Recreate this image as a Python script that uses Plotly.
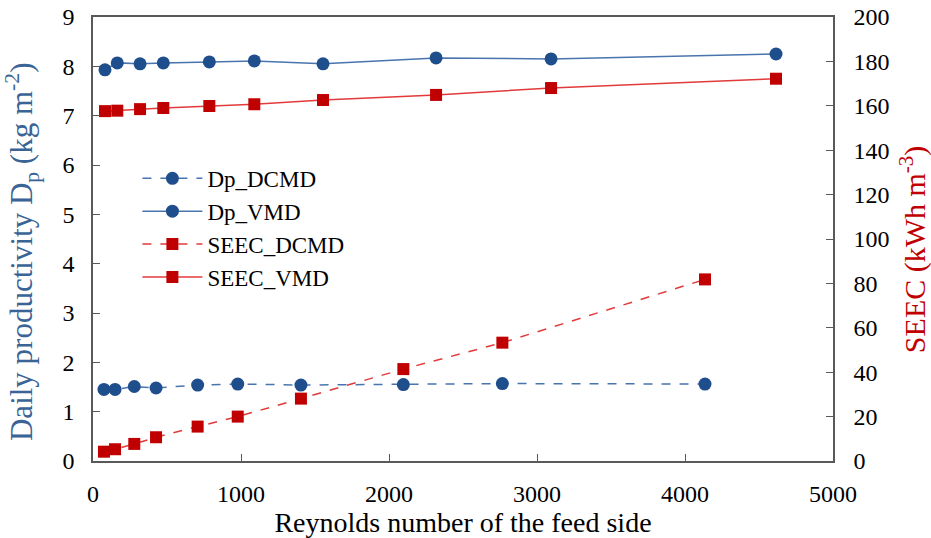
import plotly.graph_objects as go

# Feed-side Reynolds numbers
re_dcmd = [74, 149, 279, 426, 707, 978, 1405, 2097, 2766, 4135]
re_vmd = [81, 164, 318, 475, 786, 1090, 1554, 2318, 3095, 4615]

# Daily productivity (kg m-2)
dp_dcmd = [1.45, 1.45, 1.51, 1.48, 1.54, 1.56, 1.54, 1.55, 1.57, 1.56]
dp_vmd = [7.93, 8.07, 8.05, 8.07, 8.09, 8.11, 8.05, 8.17, 8.15, 8.25]

# Specific electrical energy consumption (kWh m-3)
seec_dcmd = [4.2, 5.3, 7.7, 10.7, 15.5, 20.0, 28.1, 41.4, 53.3, 81.8]
seec_vmd = [157.6, 157.8, 158.5, 159.0, 159.9, 160.7, 162.6, 164.9, 168.0, 172.2]

x_ticks = [0, 1000, 2000, 3000, 4000, 5000]

BLUE_M = "#1F4E8C"
BLUE_L = "#4A74AE"
BLUE_T = "#3A6496"
RED_M = "#C00000"
RED_L = "#E23A3A"
FONT = "Liberation Serif, Times New Roman, serif"
AXIS = "#595959"

fig = go.Figure()
fig.add_trace(go.Scatter(
    x=re_dcmd, y=dp_dcmd, name="Dp_DCMD", mode="lines+markers",
    line=dict(color=BLUE_L, width=1.5, dash="dash"),
    marker=dict(symbol="circle", size=13, color=BLUE_M),
))
fig.add_trace(go.Scatter(
    x=re_vmd, y=dp_vmd, name="Dp_VMD", mode="lines+markers",
    line=dict(color=BLUE_L, width=1.5),
    marker=dict(symbol="circle", size=13, color=BLUE_M),
))
fig.add_trace(go.Scatter(
    x=re_dcmd, y=seec_dcmd, name="SEEC_DCMD", mode="lines+markers", yaxis="y2",
    line=dict(color=RED_L, width=1.5, dash="dash"),
    marker=dict(symbol="square", size=12, color=RED_M),
))
fig.add_trace(go.Scatter(
    x=re_vmd, y=seec_vmd, name="SEEC_VMD", mode="lines+markers", yaxis="y2",
    line=dict(color=RED_L, width=1.5),
    marker=dict(symbol="square", size=12, color=RED_M),
))

fig.update_layout(
    width=931, height=538,
    margin=dict(l=93, r=98, t=17, b=77, autoexpand=False),
    paper_bgcolor="white", plot_bgcolor="white",
    font=dict(family=FONT, size=24, color="black"),
    xaxis=dict(
        range=[0, 5000], tickvals=x_ticks, ticks="inside", ticklen=7,
        ticklabelstandoff=10,
        showline=True, linecolor=AXIS, linewidth=1.5, mirror=True,
        showgrid=False, zeroline=False, tickcolor=AXIS,
        title=dict(text="Reynolds number of the feed side", standoff=2,
                   font=dict(size=28)),
    ),
    yaxis=dict(
        range=[0, 9], dtick=1, ticks="inside", ticklen=7, tickcolor=AXIS,
        ticklabelstandoff=12,
        showline=True, linecolor=AXIS, linewidth=1.5,
        showgrid=False, zeroline=False,
    ),
    yaxis2=dict(
        range=[0, 200], dtick=20, ticks="inside", ticklen=7, tickcolor=AXIS,
        ticklabelstandoff=14,
        overlaying="y", side="right",
        showline=True, linecolor=AXIS, linewidth=1.5,
        showgrid=False, zeroline=False,
    ),
    legend=dict(
        x=0.06, y=0.685, xanchor="left", yanchor="top",
        bgcolor="rgba(0,0,0,0)", font=dict(size=23),
        tracegroupgap=0, itemwidth=60,
    ),
    showlegend=True,
)

# Vertical axis titles
fig.add_annotation(
    text="Daily productivity D<sub>p</sub> (kg m<sup>-2</sup>)",
    xref="paper", yref="paper", x=-0.095, y=0.47,
    xanchor="center", yanchor="middle", textangle=-90, showarrow=False,
    font=dict(family=FONT, size=31, color=BLUE_T),
)
fig.add_annotation(
    text="SEEC (kWh m<sup>-3</sup>)",
    xref="paper", yref="paper", x=1.108, y=0.477,
    xanchor="center", yanchor="middle", textangle=-90, showarrow=False,
    font=dict(family=FONT, size=30, color=RED_M),
)

fig.write_html("out.html")
